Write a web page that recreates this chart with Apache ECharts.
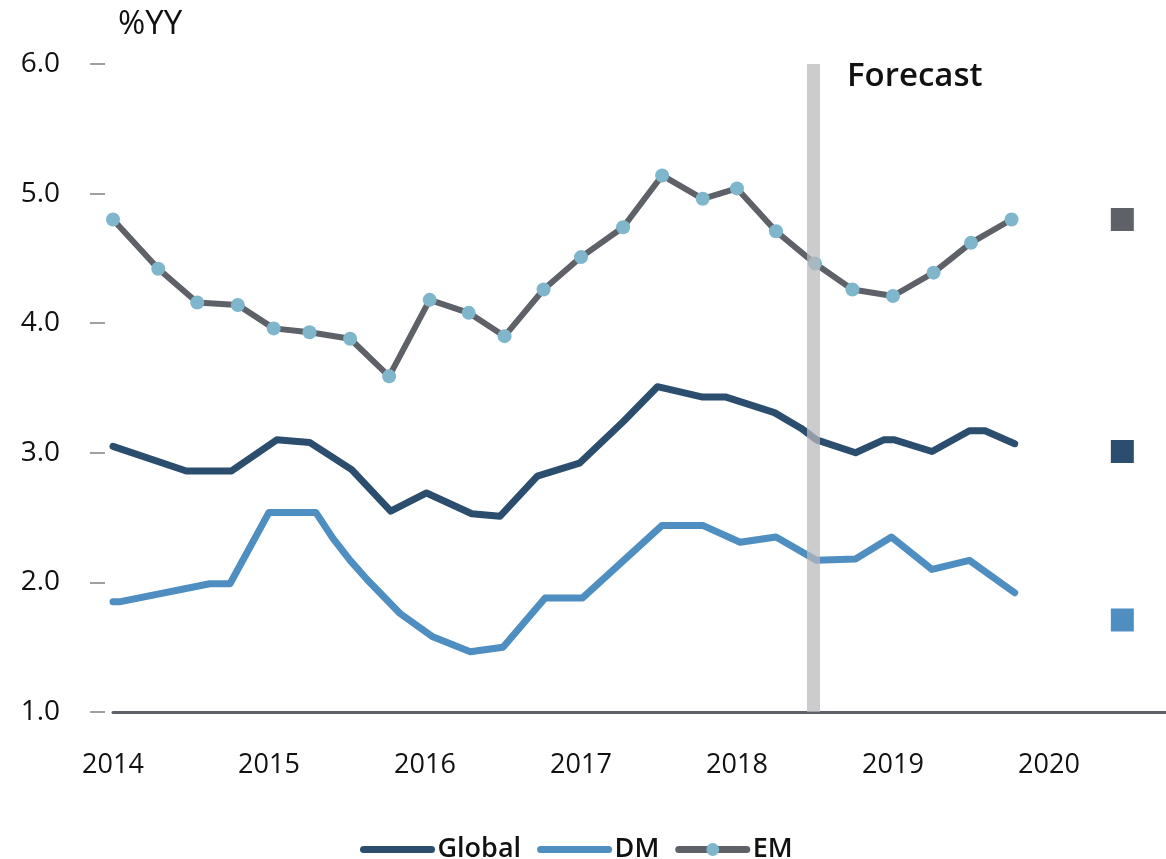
<!DOCTYPE html>
<html>
<head>
<meta charset="utf-8">
<script src="https://cdn.jsdelivr.net/npm/echarts@6/dist/echarts.min.js"></script>
<style>
html,body{margin:0;padding:0;background:#fff;}
#chart{width:1166px;height:859px;}
</style>
</head>
<body>
<div id="chart"></div>
<script>
// ---- data (x = decimal year, y = %YY) ----
const globalX = [2014.00,2014.47,2014.76,2015.05,2015.26,2015.53,2015.78,2016.01,2016.30,2016.48,2016.72,2016.99,2017.27,2017.49,2017.78,2017.93,2018.24,2018.41,2018.51,2018.76,2018.94,2019.01,2019.25,2019.49,2019.59,2019.78];
const globalY = [3.05,2.86,2.86,3.10,3.08,2.87,2.55,2.69,2.53,2.51,2.82,2.92,3.24,3.51,3.43,3.43,3.31,3.19,3.10,3.00,3.10,3.10,3.01,3.17,3.17,3.07];

const dmX = [2014.00,2014.04,2014.62,2014.75,2015.00,2015.30,2015.41,2015.52,2015.63,2015.84,2016.05,2016.29,2016.50,2016.77,2017.01,2017.52,2017.78,2018.02,2018.25,2018.51,2018.76,2018.99,2019.25,2019.49,2019.78];
const dmY = [1.85,1.85,1.99,1.99,2.54,2.54,2.34,2.17,2.02,1.76,1.58,1.465,1.50,1.88,1.88,2.44,2.44,2.31,2.35,2.17,2.18,2.35,2.10,2.17,1.92];

const emX = [2014.00,2014.29,2014.54,2014.80,2015.03,2015.26,2015.52,2015.77,2016.03,2016.28,2016.51,2016.76,2017.00,2017.27,2017.52,2017.78,2018.00,2018.25,2018.50,2018.74,2019.00,2019.26,2019.50,2019.76];
const emY = [4.80,4.42,4.16,4.14,3.96,3.93,3.88,3.59,4.18,4.08,3.90,4.26,4.51,4.74,5.14,4.96,5.04,4.71,4.46,4.26,4.21,4.39,4.62,4.80];

const forecast2020X = 2020.47;
const forecast2020 = {EM: 4.80, Global: 3.01, DM: 1.71};
const forecastStart = 2018.49;

const yTicks = [1, 2, 3, 4, 5, 6];
const xYears = [2014, 2015, 2016, 2017, 2018, 2019, 2020];
const seriesNames = ['Global', 'DM', 'EM'];

const FONT = 'Open Sans';
const C_GLOBAL = '#2b4e6e', C_DM = '#4f8ec0', C_EM = '#5f6168', C_DOT = '#7fb6cc';

const zip = (xs, ys) => xs.map((x, i) => [x, ys[i]]);

const chart = echarts.init(document.getElementById('chart'));
chart.setOption({
  backgroundColor: '#fff',
  animation: false,
  textStyle: {fontFamily: FONT},
  title: {
    text: '%YY', left: 113, top: 3,
    textStyle: {fontFamily: FONT, fontSize: 33, fontWeight: 'normal', color: '#111'}
  },
  grid: {left: 113, right: 0, top: 64, bottom: 147},
  legend: {
    data: [
      {name: seriesNames[0], itemStyle: {opacity: 0}},
      {name: seriesNames[1], itemStyle: {opacity: 0}},
      {name: seriesNames[2], itemStyle: {color: C_DOT}}
    ],
    left: 355, top: 831,
    itemWidth: 68, itemHeight: 16, itemGap: 16,
    lineStyle: {width: 7, cap: 'round'},
    textStyle: {fontFamily: FONT, fontSize: 27, fontWeight: 600, color: '#111', padding: [0, 0, 0, 1]}
  },
  xAxis: {
    type: 'value', min: xYears[0], max: 2020.75, interval: 1,
    axisLine: {show: true, lineStyle: {color: '#5f6168', width: 3}},
    axisTick: {show: false},
    splitLine: {show: false},
    axisLabel: {
      margin: 40, fontSize: 27, color: '#111', fontFamily: FONT,
      showMaxLabel: false,
      formatter: v => (xYears.indexOf(v) >= 0 ? String(v) : '')
    }
  },
  yAxis: {
    type: 'value', min: yTicks[0], max: yTicks[yTicks.length - 1], interval: 1,
    offset: 8,
    axisLine: {show: false},
    axisTick: {show: true, length: 15, lineStyle: {color: '#a0a0a0', width: 2}},
    splitLine: {show: false},
    axisLabel: {margin: 45, fontSize: 28, color: '#111', fontFamily: FONT, formatter: v => v.toFixed(1)}
  },
  series: [
    {
      name: 'Global', type: 'line', data: zip(globalX, globalY),
      symbol: 'none', color: C_GLOBAL, z: 3,
      lineStyle: {color: C_GLOBAL, width: 7, cap: 'round', join: 'round'}
    },
    {
      name: 'DM', type: 'line', data: zip(dmX, dmY),
      symbol: 'none', color: C_DM, z: 3,
      lineStyle: {color: C_DM, width: 7, cap: 'round', join: 'round'}
    },
    {
      name: 'EM', type: 'line', data: zip(emX, emY),
      symbol: 'circle', symbolSize: 14, showSymbol: true, color: C_EM, z: 4,
      itemStyle: {color: C_DOT, borderWidth: 0},
      lineStyle: {color: C_EM, width: 6, join: 'round'}
    },
    {
      name: 'Forecast2020', type: 'scatter', symbol: 'rect', symbolSize: 23, z: 5,
      itemStyle: {opacity: 1},
      data: [
        {value: [forecast2020X, forecast2020.EM], itemStyle: {color: C_EM, opacity: 1}},
        {value: [forecast2020X, forecast2020.Global], itemStyle: {color: C_GLOBAL, opacity: 1}},
        {value: [forecast2020X, forecast2020.DM], itemStyle: {color: C_DM, opacity: 1}}
      ]
    },
    {
      name: 'ForecastLine', type: 'line', data: [], z: 6,
      markLine: {
        silent: true, symbol: 'none',
        label: {show: false},
        lineStyle: {color: '#b8b9bc', width: 13, type: 'solid', opacity: 0.72},
        data: [{xAxis: forecastStart}]
      }
    }
  ],
  graphic: [{
    type: 'text', left: 847, top: 60,
    style: {text: 'Forecast', fontFamily: FONT, fontSize: 33, fontWeight: 600, fill: '#111'}
  }]
});
</script>
</body>
</html>
